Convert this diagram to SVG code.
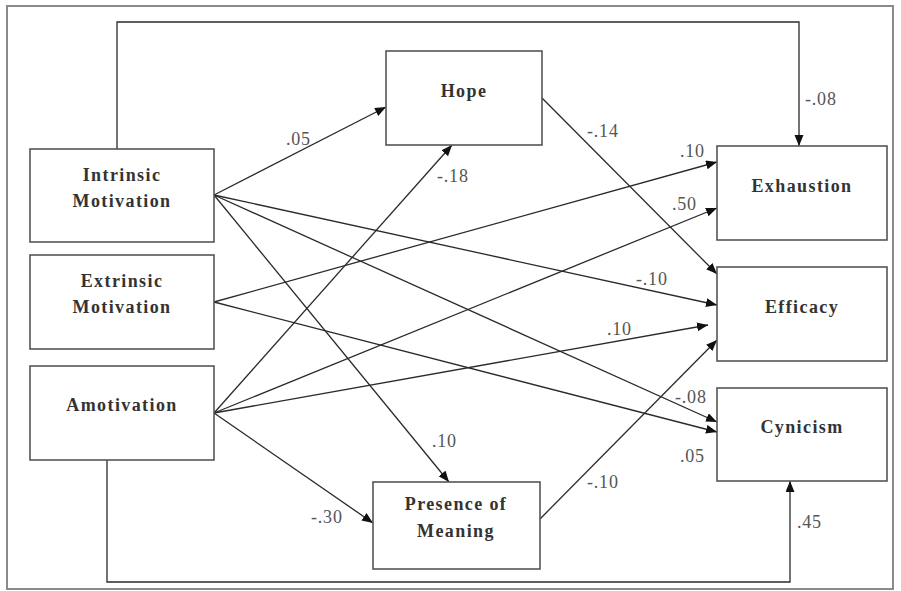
<svg xmlns="http://www.w3.org/2000/svg" width="901" height="591" viewBox="0 0 901 591">
<style>
.frame{fill:none;stroke:#8a8a8a;stroke-width:2}
.box{fill:#fff;stroke:#555;stroke-width:1.6}
.nt{font-family:"Liberation Serif",serif;font-weight:bold;font-size:18px;letter-spacing:1.4px;fill:#333;text-anchor:middle}
.ed{fill:none;stroke:#2a2a2a;stroke-width:1.3}
.lb{font-family:"Liberation Serif",serif;font-size:18px;letter-spacing:0.8px;fill:#555}
</style>
<defs>
<marker id="ah" markerUnits="userSpaceOnUse" markerWidth="12" markerHeight="10" refX="11" refY="4.5" orient="auto">
<path d="M0,0 L11,4.5 L0,9 z" fill="#111"/>
</marker>
</defs>
<rect x="0" y="0" width="901" height="591" fill="#fff"/>
<rect class="frame" x="7" y="6" width="886" height="583"/>
<g id="connectors">
<path class="ed" d="M117,149 V22 H799 V146" marker-end="url(#ah)"/>
<path class="ed" d="M214,195 L386,107" marker-end="url(#ah)"/>
<path class="ed" d="M214,195 L717,305" marker-end="url(#ah)"/>
<path class="ed" d="M214,195 L717,422" marker-end="url(#ah)"/>
<path class="ed" d="M214,195 L449,482" marker-end="url(#ah)"/>
<path class="ed" d="M214,302 L717,162" marker-end="url(#ah)"/>
<path class="ed" d="M214,302 L717,432" marker-end="url(#ah)"/>
<path class="ed" d="M214,413 L452,145" marker-end="url(#ah)"/>
<path class="ed" d="M214,413 L717,208" marker-end="url(#ah)"/>
<path class="ed" d="M214,413 L708,325" marker-end="url(#ah)"/>
<path class="ed" d="M214,413 L373,523" marker-end="url(#ah)"/>
<path class="ed" d="M107,460 V582 H790 V481" marker-end="url(#ah)"/>
<path class="ed" d="M542,98 L717,274" marker-end="url(#ah)"/>
<path class="ed" d="M540,519 L717,340" marker-end="url(#ah)"/>
<text class="lb" x="805" y="105">-.08</text>
<text class="lb" x="286" y="145">.05</text>
<text class="lb" x="636" y="285">-.10</text>
<text class="lb" x="675" y="403">-.08</text>
<text class="lb" x="432" y="447">.10</text>
<text class="lb" x="680" y="157">.10</text>
<text class="lb" x="680" y="462">.05</text>
<text class="lb" x="437" y="182">-.18</text>
<text class="lb" x="672" y="210">.50</text>
<text class="lb" x="607" y="335">.10</text>
<text class="lb" x="311" y="523">-.30</text>
<text class="lb" x="797" y="528">.45</text>
<text class="lb" x="587" y="137">-.14</text>
<text class="lb" x="587" y="488">-.10</text>
</g>
<g id="intrinsic">
<rect class="box" x="30" y="149" width="184" height="93"/>
<text class="nt" x="122" y="181">Intrinsic</text>
<text class="nt" x="122" y="207">Motivation</text>
</g>
<g id="extrinsic">
<rect class="box" x="30" y="255" width="184" height="94"/>
<text class="nt" x="122" y="287">Extrinsic</text>
<text class="nt" x="122" y="313">Motivation</text>
</g>
<g id="amotivation">
<rect class="box" x="30" y="366" width="184" height="94"/>
<text class="nt" x="122" y="411">Amotivation</text>
</g>
<g id="hope">
<rect class="box" x="386" y="51" width="156" height="94"/>
<text class="nt" x="464" y="97">Hope</text>
</g>
<g id="presence">
<rect class="box" x="373" y="482" width="167" height="87"/>
<text class="nt" x="456" y="510">Presence of</text>
<text class="nt" x="456" y="537">Meaning</text>
</g>
<g id="exhaustion">
<rect class="box" x="717" y="146" width="170" height="94"/>
<text class="nt" x="802" y="192">Exhaustion</text>
</g>
<g id="efficacy">
<rect class="box" x="717" y="267" width="170" height="94"/>
<text class="nt" x="802" y="313">Efficacy</text>
</g>
<g id="cynicism">
<rect class="box" x="717" y="388" width="170" height="93"/>
<text class="nt" x="802" y="433">Cynicism</text>
</g>
</svg>
